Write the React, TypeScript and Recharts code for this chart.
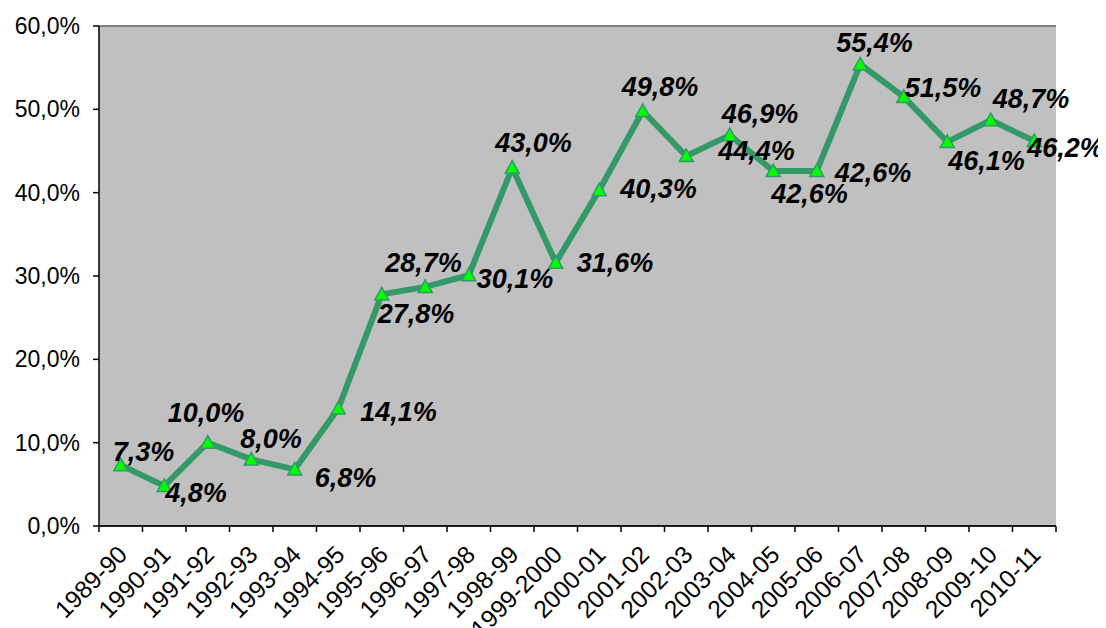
import React from "react";
import {
  LineChart,
  Line,
  XAxis,
  YAxis,
  CartesianGrid,
  ReferenceLine,
} from "recharts";

const categories = [
  "1989-90", "1990-91", "1991-92", "1992-93", "1993-94", "1994-95",
  "1995-96", "1996-97", "1997-98", "1998-99", "1999-2000", "2000-01",
  "2001-02", "2002-03", "2003-04", "2004-05", "2005-06", "2006-07",
  "2007-08", "2008-09", "2009-10", "2010-11",
];

const values = [
  7.3, 4.8, 10.0, 8.0, 6.8, 14.1, 27.8, 28.7, 30.1, 43.0, 31.6, 40.3,
  49.8, 44.4, 46.9, 42.6, 42.6, 55.4, 51.5, 46.1, 48.7, 46.2,
];

const yTicks = [0, 10, 20, 30, 40, 50, 60];

// label placement relative to each point: [dx to text start, dy to baseline]
const labelOffsets: [number, number][] = [
  [-8, -4], [1, 16], [-40, -21], [-11, -11], [20, 18], [22, 12],
  [-4, 29], [-40, -15], [8, 13], [-17, -16], [21, 9], [21, 8],
  [-21, -15], [32, 4], [-8, -12], [-2, 32], [18, 11], [-24, -12],
  [1, 0], [1, 28], [2, -12], [-7, 16],
];

const data = categories.map((c, i) => ({ name: c, value: values[i] }));

const FONT = "'Liberation Sans', Arial, Helvetica, sans-serif";
const W = 1098;
const H = 620;
const MARGIN = { top: 18, right: 50, left: 0, bottom: 0 };
const Y_W = 91;
const X_H = 102;
const PLOT_W = W - MARGIN.left - MARGIN.right - Y_W;
const HALF_BAND = PLOT_W / categories.length / 2;

const fmt = (v: number) => v.toFixed(1).replace(".", ",") + "%";

const XTick = (props: any) => {
  const { x, y, payload, index } = props;
  const last = index === categories.length - 1;
  const ax = x + 8;
  const ay = y + 30;
  return (
    <g>
      <line x1={x - HALF_BAND} y1={y} x2={x - HALF_BAND} y2={y + 6} stroke="#000" strokeWidth={1.5} />
      {last && (
        <line x1={x + HALF_BAND} y1={y} x2={x + HALF_BAND} y2={y + 6} stroke="#000" strokeWidth={1.5} />
      )}
      <text
        x={ax}
        y={ay}
        textAnchor="end"
        transform={`rotate(-45 ${ax} ${ay})`}
        fontFamily={FONT}
        fontSize={24.5}
        fill="#000"
      >
        {payload.value}
      </text>
    </g>
  );
};

const Triangle = (props: any) => {
  const { cx, cy } = props;
  if (cx == null || cy == null) return null;
  const s = 7;
  return (
    <path
      d={`M${cx},${cy - s} L${cx + s},${cy + s * 0.8} L${cx - s},${cy + s * 0.8} Z`}
      fill="#00FF00"
      stroke="#339966"
      strokeWidth={1.5}
    />
  );
};

const DataLabel = (props: any) => {
  const { x, y, index, value } = props;
  const [dx, dy] = labelOffsets[index] || [0, 0];
  return (
    <text
      x={x + dx}
      y={y + dy}
      textAnchor="start"
      fontFamily={FONT}
      fontSize={27}
      fontWeight="bold"
      fontStyle="italic"
      fill="#000"
    >
      {fmt(value)}
    </text>
  );
};

export default function App() {
  return (
    <div style={{ width: W, height: H }}>
      <LineChart width={W} height={H} data={data} margin={MARGIN}>
        <CartesianGrid
          vertical={false}
          stroke="#000"
          strokeWidth={1.2}
          fill="#C0C0C0"
          fillOpacity={1}
        />
        <XAxis
          dataKey="name"
          height={X_H}
          interval={0}
          padding={{ left: HALF_BAND, right: HALF_BAND }}
          tickLine={false}
          tickSize={0}
          tickMargin={0}
          axisLine={{ stroke: "#000", strokeWidth: 1.5 }}
          tick={<XTick />}
        />
        <YAxis
          yAxisId="left"
          width={Y_W}
          domain={[0, 60]}
          ticks={yTicks}
          interval={0}
          tickFormatter={fmt}
          tickSize={6}
          tickMargin={13}
          tickLine={{ stroke: "#000", strokeWidth: 1.5 }}
          axisLine={{ stroke: "#000", strokeWidth: 1.5 }}
          tick={{ fontFamily: FONT, fontSize: 23, fill: "#000" }}
        />
        <YAxis
          yAxisId="right"
          orientation="right"
          width={0}
          domain={[0, 60]}
          tick={false}
          tickLine={false}
          axisLine={{ stroke: "#808080", strokeWidth: 2 }}
        />
        <ReferenceLine yAxisId="left" y={60} stroke="#808080" strokeWidth={2} />
        <Line
          yAxisId="left"
          type="linear"
          dataKey="value"
          stroke="#339966"
          strokeWidth={6}
          dot={<Triangle />}
          activeDot={false}
          isAnimationActive={false}
          label={<DataLabel />}
        />
      </LineChart>
    </div>
  );
}
